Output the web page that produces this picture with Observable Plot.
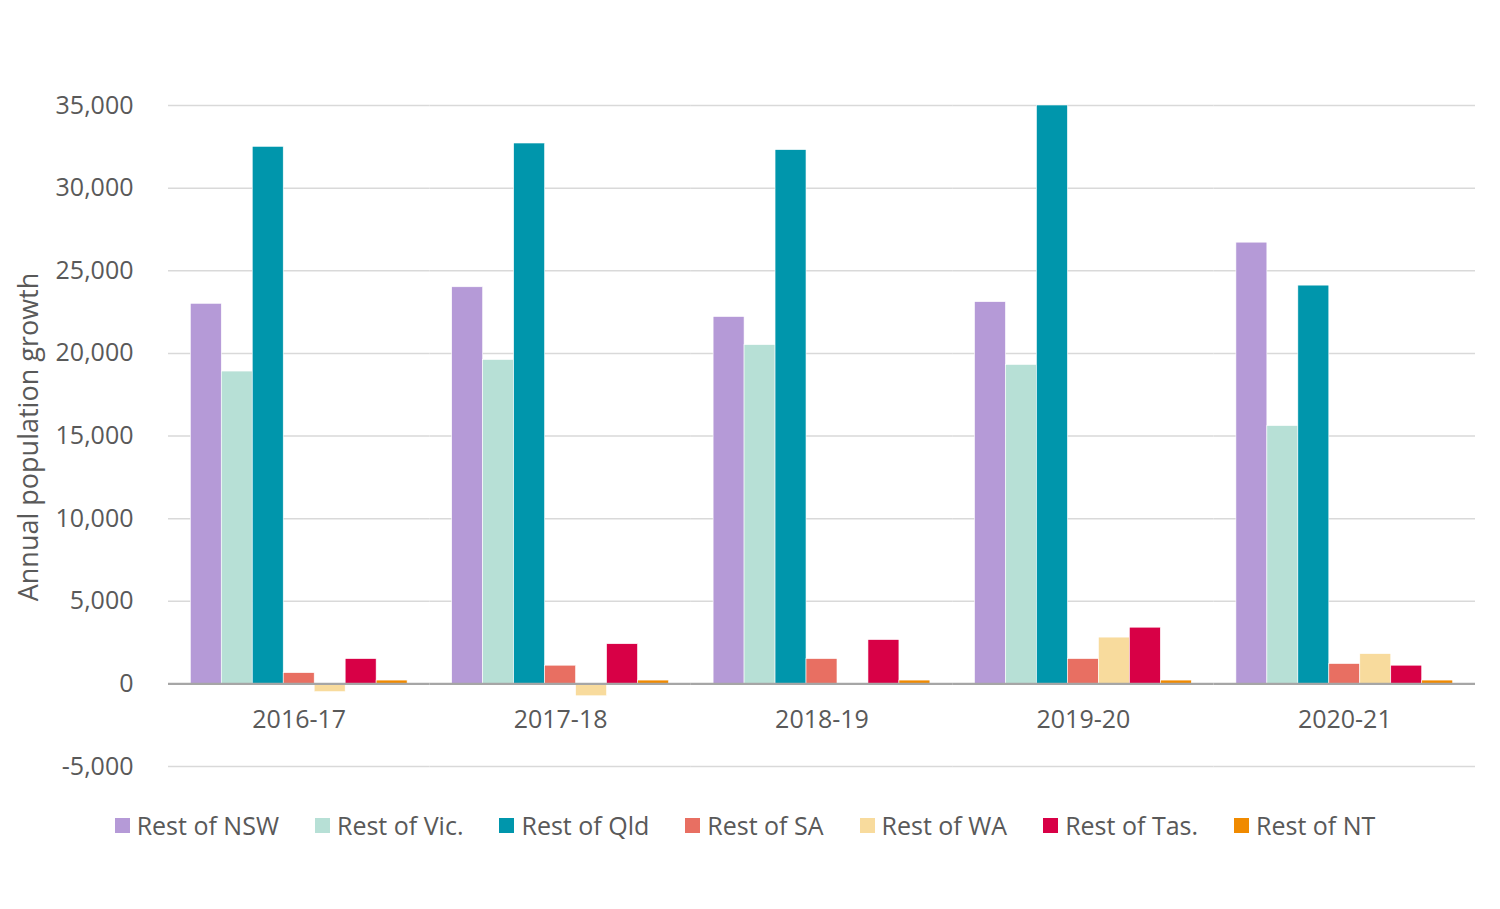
<!DOCTYPE html>
<html>
<head>
<meta charset="utf-8">
<script src="https://cdn.jsdelivr.net/npm/d3@7"></script>
<script src="https://cdn.jsdelivr.net/npm/@observablehq/plot@0.6"></script>
<style>
  html, body { margin: 0; padding: 0; background: #fff; }
  body { width: 1500px; font-family: "Open Sans", sans-serif; }
  #legend { display: flex; justify-content: center; align-items: center; height: 30px; margin-top: 20px; padding-right: 10px; }
  .item { display: flex; align-items: center; font-size: 25px; color: #595959; margin: 0 18px; }
  .sw { width: 15px; height: 15px; margin-right: 7px; }
</style>
</head>
<body>
<div id="chart"></div>
<div id="legend"></div>
<script>
const years = ["2016-17", "2017-18", "2018-19", "2019-20", "2020-21"];
const regions = ["Rest of NSW", "Rest of Vic.", "Rest of Qld", "Rest of SA", "Rest of WA", "Rest of Tas.", "Rest of NT"];
const colors = ["#B59AD7", "#B7E0D6", "#0096AC", "#E86F62", "#F8DB9D", "#D80046", "#F08A00"];
const nsw = [23000, 24000, 22200, 23100, 26700];
const vic = [18900, 19600, 20500, 19300, 15600];
const qld = [32500, 32700, 32300, 35000, 24100];
const sa  = [650, 1100, 1500, 1500, 1200];
const wa  = [-500, -750, 0, 2800, 1800];
const tas = [1500, 2400, 2650, 3400, 1100];
const nt  = [200, 200, 200, 200, 200];
const yTicks = [-5000, 0, 5000, 10000, 15000, 20000, 25000, 30000, 35000];

const series = [nsw, vic, qld, sa, wa, tas, nt];
const data = [];
years.forEach((yr, i) => regions.forEach((r, j) => data.push({year: yr, region: r, value: series[j][i]})));

const fmt = d => d3.format(",")(d).replace("−", "-");

const chart = Plot.plot({
  width: 1500,
  height: 790,
  marginTop: 105,
  marginBottom: 24,
  marginLeft: 168,
  marginRight: 25,
  style: {fontFamily: "Open Sans, sans-serif", fontSize: "25px", color: "#595959", background: "#fff"},
  fx: {domain: years, padding: 0, axis: null, round: false},
  x: {domain: regions, paddingInner: 0, paddingOuter: 0.72, axis: null, round: false},
  y: {domain: [-5000, 35000], ticks: yTicks, tickFormat: fmt, label: null},
  color: {domain: regions, range: colors},
  marks: [
    Plot.ruleY(yTicks.filter(d => d !== 0), {stroke: "#d9d9d9", strokeWidth: 1.5}),
    Plot.axisY({ticks: yTicks, tickFormat: fmt, tickSize: 0, tickPadding: 35, label: null, fontSize: 25, fill: "#595959"}),
    Plot.barY(data, {fx: "year", x: "region", y: "value", fill: "region", stroke: "white", strokeWidth: 0.6}),
    Plot.ruleY([0], {stroke: "#a6a6a6", strokeWidth: 2.2}),
    Plot.text(years, {fx: d => d, y: 0, text: d => d, dy: 36, fontSize: 25, fill: "#595959"})
  ]
});

// y-axis title
const svg = d3.select(chart);
svg.append("text")
  .attr("transform", "translate(31,437) rotate(-90)")
  .attr("text-anchor", "middle")
  .attr("dominant-baseline", "middle")
  .attr("font-size", 27)
  .attr("fill", "#595959")
  .text("Annual population growth");

document.getElementById("chart").appendChild(chart);

const legend = document.getElementById("legend");
regions.forEach((r, i) => {
  const it = document.createElement("div");
  it.className = "item";
  it.innerHTML = `<span class="sw" style="background:${colors[i]}"></span><span>${r}</span>`;
  legend.appendChild(it);
});
</script>
</body>
</html>
